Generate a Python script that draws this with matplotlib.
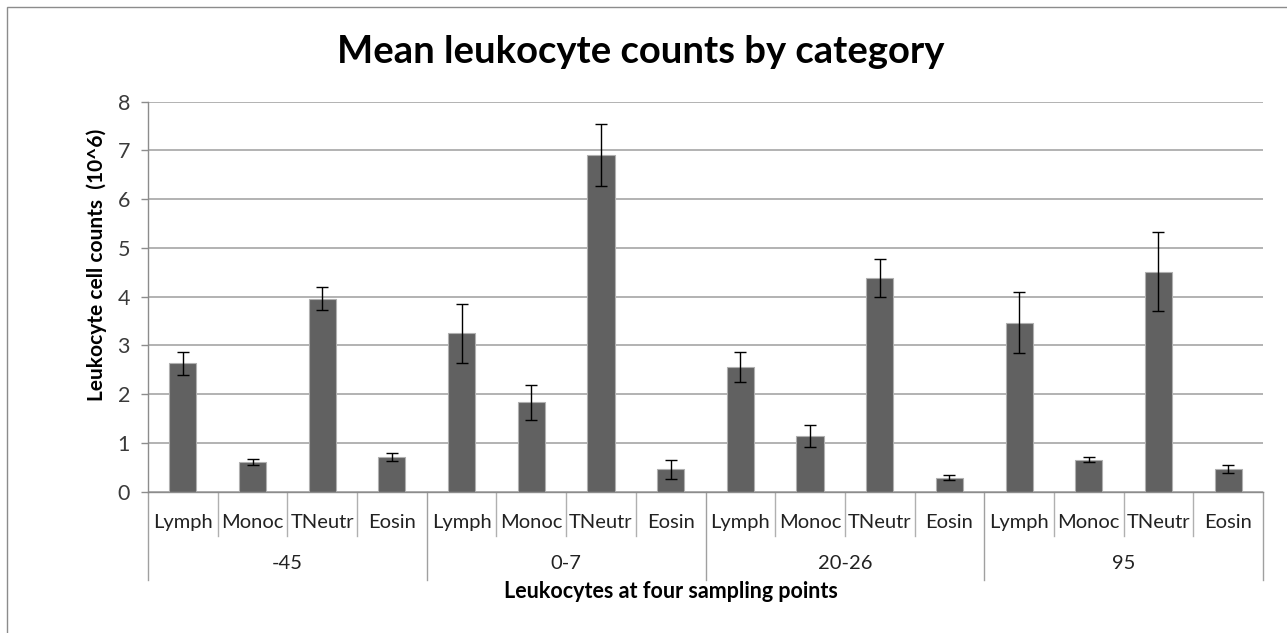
import matplotlib.pyplot as plt
from matplotlib.patches import Rectangle

# Data
groups = ['-45', '0-7', '20-26', '95']
cells = ['Lymph', 'Monoc', 'TNeutr', 'Eosin']

means = [
    [2.63, 0.61, 3.96, 0.72],
    [3.25, 1.83, 6.91, 0.46],
    [2.56, 1.14, 4.38, 0.29],
    [3.47, 0.66, 4.51, 0.47],
]
errors = [
    [0.23, 0.07, 0.23, 0.08],
    [0.60, 0.36, 0.64, 0.19],
    [0.30, 0.22, 0.39, 0.05],
    [0.63, 0.06, 0.81, 0.08],
]

plt.rcParams['font.family'] = ['Lato', 'DejaVu Sans']

fig = plt.figure(figsize=(12.87, 6.33), dpi=100)
ax = fig.add_axes([148 / 1287, 1 - 491.7 / 633, (1263 - 148) / 1287, 390 / 633])

# chart area border
fig.patches.append(Rectangle((7 / 1287, -0.1), 1.2, 1 - 7 / 633 + 0.1,
                             transform=fig.transFigure, fill=False,
                             edgecolor='#8c8c8c', linewidth=1))

vals = [v for g in means for v in g]
errs = [e for g in errors for e in g]
xs = list(range(len(vals)))

ax.set_axisbelow(True)
ax.yaxis.grid(True, color='#a6a6a6', linewidth=1.2)
ax.bar(xs, vals, width=0.39, color='#616161', edgecolor='#b0b0b0', linewidth=0.8,
       yerr=errs, capsize=4, error_kw=dict(ecolor='black', elinewidth=1, capthick=1))

ax.set_xlim(-0.5, len(vals) - 0.5)
ax.set_ylim(0, 8)
ax.set_yticks(range(0, 9))
ax.tick_params(axis='y', labelsize=15.5, colors='#3a3a3a', length=5, width=1, pad=8)
ax.tick_params(axis='y', color='#8c8c8c')
ax.set_xticks([])
for s in ['top', 'right']:
    ax.spines[s].set_visible(False)
for s in ['left', 'bottom']:
    ax.spines[s].set_color('#8c8c8c')
    ax.spines[s].set_linewidth(1)

trans = ax.get_xaxis_transform()
n = len(cells)
for gi, g in enumerate(groups):
    for ci, c in enumerate(cells):
        x = gi * n + ci
        ax.text(x, -0.078, c, transform=trans, ha='center', va='center',
                fontsize=14.5, color='#222222')
        if ci > 0:
            ax.plot([x - 0.5, x - 0.5], [0, -0.113], transform=trans,
                    color='#b0b0b0', linewidth=1, clip_on=False)
    ax.text(gi * n + (n - 1) / 2, -0.185, g, transform=trans, ha='center',
            va='center', fontsize=14.5, color='#222222')
for gi in range(len(groups) + 1):
    x = gi * n - 0.5
    ax.plot([x, x], [0, -0.226], transform=trans, color='#a0a0a0',
            linewidth=1, clip_on=False)

fig.text(97 / 1287, 1 - 265 / 633, 'Leukocyte cell counts  (10^6)', rotation=90,
         ha='center', va='center', fontsize=15, fontweight='bold')
fig.text(671 / 1287, 1 - 592 / 633, 'Leukocytes at four sampling points',
         ha='center', va='center', fontsize=15.5, fontweight='bold')
fig.text(641 / 1287, 1 - 52 / 633, 'Mean leukocyte counts by category',
         ha='center', va='center', fontsize=27.5, fontweight='bold')

fig.savefig('out.png', dpi=100)
